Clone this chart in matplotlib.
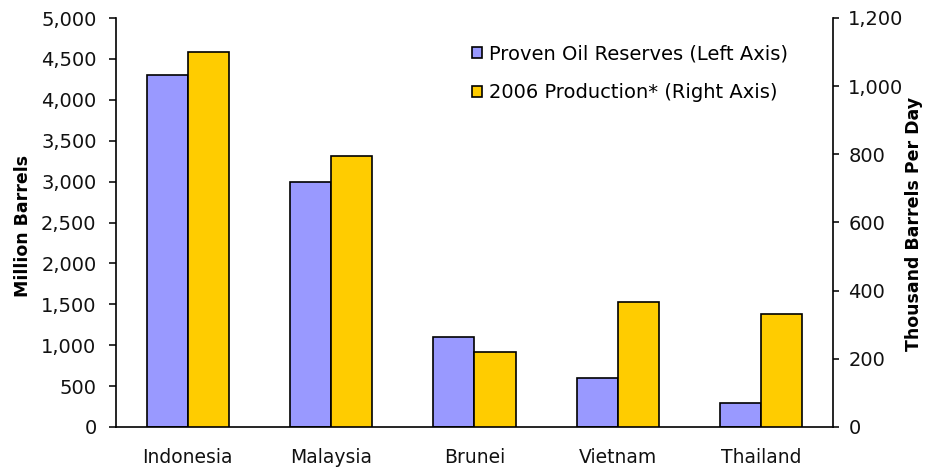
import matplotlib.pyplot as plt
import numpy as np

# Data
countries = ['Indonesia', 'Malaysia', 'Brunei', 'Vietnam', 'Thailand']
reserves = [4300, 3000, 1100, 600, 290]        # million barrels (left axis)
production = [1100, 795, 221, 367, 331]        # thousand barrels/day (right axis)
left_ticks = [0, 500, 1000, 1500, 2000, 2500, 3000, 3500, 4000, 4500, 5000]
right_ticks = [0, 200, 400, 600, 800, 1000, 1200]

plt.rcParams['font.family'] = 'DejaVu Sans'
fig = plt.figure(figsize=(9.29, 4.70), dpi=100)
ax = fig.add_axes([116 / 929, 1 - 427 / 470, 717 / 929, 409 / 470])
ax2 = ax.twinx()

x = np.arange(len(countries))
w = 0.286
b1 = ax.bar(x - w / 2, reserves, w, color='#9999FF', edgecolor='black', linewidth=1.2,
            label='Proven Oil Reserves (Left Axis)')
b2 = ax2.bar(x + w / 2, production, w, color='#FFCC00', edgecolor='black', linewidth=1.2,
             label='2006 Production* (Right Axis)')

ax.set_xlim(-0.5, 4.5)
ax.set_ylim(0, 5000)
ax2.set_ylim(0, 1200)
ax.set_yticks(left_ticks)
ax.set_yticklabels([f'{v:,}' for v in left_ticks])
ax2.set_yticks(right_ticks)
ax2.set_yticklabels([f'{v:,}' for v in right_ticks])
ax.set_xticks(x)
ax.set_xticklabels(countries)

for a in (ax, ax2):
    a.spines['top'].set_visible(False)
    for s in a.spines.values():
        s.set_linewidth(1.2)
ax.spines['right'].set_visible(False)
ax2.spines['left'].set_visible(False)
ax2.spines['bottom'].set_visible(False)

ax.tick_params(axis='y', length=5, width=1.2, pad=9, labelsize=14, colors='#111111')
ax2.tick_params(axis='y', length=4, width=1.2, pad=7, labelsize=14, colors='#111111')
ax.tick_params(axis='x', length=0, pad=15, labelsize=13.5, colors='#111111')

fig.text(23 / 929, 1 - 226 / 470, 'Million Barrels', rotation=90, ha='center', va='center',
         fontsize=12.5, fontweight='bold')
fig.text(914 / 929, 1 - 224 / 470, 'Thousand Barrels Per Day', rotation=90, ha='center',
         va='center', fontsize=12.5, fontweight='bold')

fig.legend(handles=[b1, b2], loc='upper left', bbox_to_anchor=(472 / 929, 1 - 44 / 470),
           frameon=False, fontsize=14, borderpad=0, borderaxespad=0,
           handlelength=0.5, handleheight=0.5, handletextpad=0.35, labelspacing=1.05)

fig.savefig('out.png', dpi=100)
